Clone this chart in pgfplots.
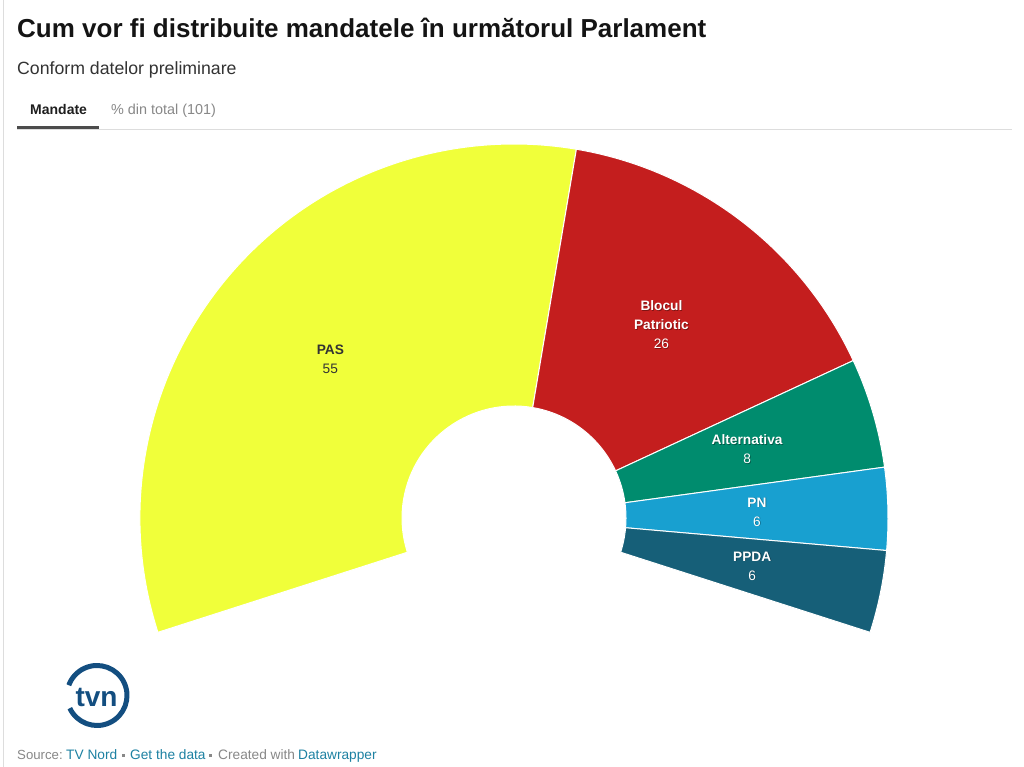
\documentclass[border=0pt]{standalone}
\usepackage{pgfplots}
\pgfplotsset{compat=1.18}
\usepackage{pgfplotstable}
\usepackage{fontspec}
\setmainfont{Liberation Sans}

\definecolor{cPAS}{HTML}{F0FF3A}
\definecolor{cBP}{HTML}{C41E1E}
\definecolor{cAlt}{HTML}{008C6E}
\definecolor{cPN}{HTML}{18A0D0}
\definecolor{cPPDA}{HTML}{165F78}
\definecolor{darktext}{HTML}{333333}
\definecolor{linkblue}{HTML}{1D81A2}
\definecolor{srcgray}{HTML}{888888}
\definecolor{logoblue}{HTML}{134E80}
\definecolor{rulegray}{HTML}{DDDDDD}

\pgfplotstableread[col sep=comma]{
party,seats,fc,tc,sh
PAS,55,cPAS,darktext,0
Blocul Patriotic,26,cBP,white,1
Alternativa,8,cAlt,white,1
PN,6,cPN,white,1
PPDA,6,cPPDA,white,1
}\seatdata

% geometry of the hemicycle (pixels, y measured upwards)
\def\cx{514}\def\cy{249}
\def\Ro{374}\def\Ri{112}\def\Rl{243}
\def\Astart{197.8}\def\Aspan{215.6}

\pgfplotstablegetrowsof{\seatdata}
\pgfmathtruncatemacro\lastrow{\pgfplotsretval-1}
\def\total{0}
\pgfplotsforeachungrouped \i in {0,...,\lastrow}{%
  \pgfplotstablegetelem{\i}{seats}\of\seatdata
  \pgfmathsetmacro\total{\total+\pgfplotsretval}%
}
\def\cum{0}
\pgfplotsforeachungrouped \i in {0,...,\lastrow}{%
  \pgfplotstablegetelem{\i}{seats}\of\seatdata
  \let\secval\pgfplotsretval
  \pgfmathsetmacro\aone{\Astart-\cum/\total*\Aspan}%
  \pgfmathsetmacro\cum{\cum+\secval}%
  \pgfmathsetmacro\atwo{\Astart-\cum/\total*\Aspan}%
  \pgfmathsetmacro\amid{(\aone+\atwo)/2}%
  \expandafter\xdef\csname secA\i\endcsname{\aone}%
  \expandafter\xdef\csname secB\i\endcsname{\atwo}%
  \expandafter\xdef\csname secM\i\endcsname{\amid}%
  \expandafter\xdef\csname secV\i\endcsname{\secval}%
  \pgfplotstablegetelem{\i}{party}\of\seatdata
  \expandafter\xdef\csname secL\i\endcsname{\pgfplotsretval}%
  \pgfplotstablegetelem{\i}{sh}\of\seatdata
  \pgfmathsetmacro\shop{0.35*\pgfplotsretval}%
  \expandafter\xdef\csname secS\i\endcsname{\shop}%
  \pgfplotstablegetelem{\i}{fc}\of\seatdata
  \colorlet{sec\i}{\pgfplotsretval}%
  \pgfplotstablegetelem{\i}{tc}\of\seatdata
  \colorlet{txt\i}{\pgfplotsretval}%
}

\begin{document}
\begin{tikzpicture}[x=1pt,y=1pt]
\fill[white] (0,0) rectangle (1024,767);
\begin{axis}[anchor=origin, at={(0,0)}, x=1pt, y=1pt,
  xmin=0, xmax=1024, ymin=0, ymax=767, hide axis, clip=false]

% frame line on the left
\draw[rulegray, line width=1pt] (axis cs:3.5,0) -- (axis cs:3.5,767);

% titles
\node[anchor=base west, inner sep=0, text=black!92,
  font=\fontsize{26}{30}\selectfont\bfseries] at (axis cs:17,729.7)
  {Cum vor fi distribuite mandatele în următorul Parlament};
\node[anchor=base west, inner sep=0, text=darktext,
  font=\fontsize{17.7}{21}\selectfont] at (axis cs:17,692)
  {Conform datelor preliminare};

% tabs
\draw[rulegray, line width=1.2pt] (axis cs:17,637.5) -- (axis cs:1012,637.5);
\draw[black!70, line width=3pt] (axis cs:17,639.5) -- (axis cs:99,639.5);
\node[anchor=base west, inner sep=0, text=black!88,
  font=\fontsize{14}{16}\selectfont\bfseries] at (axis cs:30,652.7) {Mandate};
\node[anchor=base west, inner sep=0, text=srcgray,
  font=\fontsize{14.4}{16}\selectfont] at (axis cs:111,652.7) {\% din total (101)};

% sectors
\pgfplotsinvokeforeach{0,...,\lastrow}{
  \filldraw[fill=sec#1, draw=white, line width=1pt, line join=round]
    (axis cs:{\cx+\Ro*cos(\csname secA#1\endcsname)},{\cy+\Ro*sin(\csname secA#1\endcsname)})
    arc[start angle=\csname secA#1\endcsname, end angle=\csname secB#1\endcsname, radius=\Ro pt]
    -- (axis cs:{\cx+\Ri*cos(\csname secB#1\endcsname)},{\cy+\Ri*sin(\csname secB#1\endcsname)})
    arc[start angle=\csname secB#1\endcsname, end angle=\csname secA#1\endcsname, radius=\Ri pt]
    -- cycle;
}

% labels (soft shadow, then text)
\pgfplotsinvokeforeach{0,...,\lastrow}{
  \node[align=center, text width=80pt, inner sep=0, text=black,
    text opacity=\csname secS#1\endcsname,
    font=\fontsize{13.7}{19}\selectfont]
    at (axis cs:{\cx+\Rl*cos(\csname secM#1\endcsname)+0.8},{\cy+\Rl*sin(\csname secM#1\endcsname)-0.8})
    {\textbf{\csname secL#1\endcsname}\\\csname secV#1\endcsname};
  \node[align=center, text width=80pt, inner sep=0, text=txt#1,
    font=\fontsize{13.7}{19}\selectfont]
    at (axis cs:{\cx+\Rl*cos(\csname secM#1\endcsname)},{\cy+\Rl*sin(\csname secM#1\endcsname)})
    {\textbf{\csname secL#1\endcsname}\\\csname secV#1\endcsname};
}

% logo
\draw[logoblue, line width=5pt]
  (axis cs:{97+30*cos(-155)},{71.5+30*sin(-155)})
  arc[start angle=-155, end angle=160, radius=30pt];
\node[anchor=base, inner sep=0, text=logoblue,
  font=\fontsize{28}{30}\selectfont\bfseries] at (axis cs:96.5,60) {tvn};

% source line
\begin{scope}[every node/.style={anchor=base west, inner sep=0,
    font=\fontsize{13.7}{16}\selectfont}]
\node[text=srcgray, font=\fontsize{13.2}{16}\selectfont] at (axis cs:17,7) {Source:};
\node[text=linkblue] at (axis cs:66,7) {TV Nord};
\node[text=srcgray, anchor=center] at (axis cs:123.5,11.5) {\rule{2.6pt}{2.6pt}};
\node[text=linkblue] at (axis cs:130,7) {Get the data};
\node[text=srcgray, anchor=center] at (axis cs:210.5,11.5) {\rule{2.6pt}{2.6pt}};
\node[text=srcgray] at (axis cs:218,7) {Created with};
\node[text=linkblue] at (axis cs:298,7) {Datawrapper};
\end{scope}
\end{axis}
\pgfresetboundingbox
\path[use as bounding box] (0,0) rectangle (1024,767);
\end{tikzpicture}
\end{document}
